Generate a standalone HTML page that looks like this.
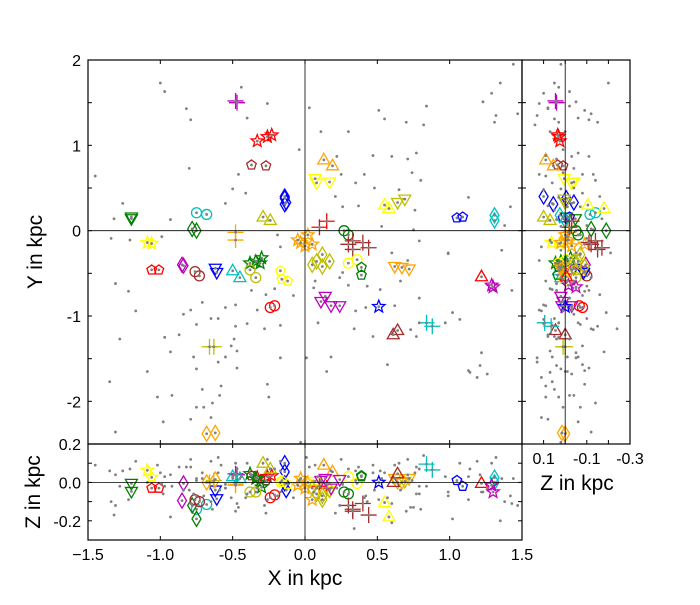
<!DOCTYPE html>
<html><head><meta charset="utf-8"><style>
body{margin:0;background:#fff;}
svg text{font-family:"Liberation Sans","DejaVu Sans",sans-serif;fill:#000;}
</style></head><body>
<svg id="chart" width="700" height="600" xmlns="http://www.w3.org/2000/svg">
<rect width="700" height="600" fill="#fff"/>
<g id="marks"></g>
<g id="axes"></g>
<text x="42" y="252" font-size="21" text-anchor="middle" transform="rotate(-90 42 252)">Y in kpc</text>
<text x="40" y="492" font-size="21" text-anchor="middle" transform="rotate(-90 40 492)">Z in kpc</text>
<text x="305" y="585" font-size="21" text-anchor="middle">X in kpc</text>
<text x="577" y="490" font-size="21" text-anchor="middle">Z in kpc</text>
</svg>
<script>
// ---- object data (kpc) ----
const objX = [-0.48,-0.47,-0.33,-0.26,-0.23,-0.37,-0.27,-0.14,-0.14,-0.14,-0.13,-1.20,-1.20,-0.75,-0.68,-0.29,-0.24,-0.78,-0.75,-0.48,-0.48,-1.09,-1.06,-0.05,0.02,0.00,0.05,-0.03,-1.06,-1.01,-0.84,-0.85,-0.76,-0.73,-0.62,-0.61,-0.50,-0.45,-0.38,-0.34,-0.30,-0.31,-0.38,-0.34,-0.17,-0.16,-0.12,-0.24,-0.21,-0.66,-0.63,-0.68,-0.62,0.13,0.19,0.07,0.08,0.17,0.55,0.58,0.64,0.69,1.05,1.09,1.31,1.31,0.10,0.15,0.27,0.30,0.30,0.33,0.40,0.44,0.33,0.05,0.08,0.12,0.12,0.17,0.30,0.36,0.39,0.39,0.62,0.67,0.72,1.22,1.29,1.30,0.14,0.11,0.18,0.24,0.51,0.61,0.64,0.84,0.88];
const objY = [1.52,1.50,1.05,1.10,1.12,0.77,0.76,0.40,0.31,0.38,0.33,0.16,0.14,0.21,0.19,0.16,0.12,0.02,0.00,-0.02,-0.11,-0.14,-0.15,-0.11,-0.05,-0.18,-0.16,-0.14,-0.46,-0.46,-0.41,-0.40,-0.48,-0.53,-0.44,-0.49,-0.47,-0.55,-0.38,-0.36,-0.32,-0.38,-0.46,-0.55,-0.47,-0.57,-0.59,-0.90,-0.88,-1.36,-1.36,-2.38,-2.37,0.83,0.76,0.61,0.56,0.57,0.30,0.26,0.33,0.37,0.15,0.16,0.18,0.12,0.04,0.11,0.00,-0.05,-0.16,-0.12,-0.14,-0.20,-0.22,-0.40,-0.36,-0.28,-0.42,-0.36,-0.38,-0.34,-0.43,-0.52,-0.42,-0.43,-0.45,-0.54,-0.64,-0.66,-0.77,-0.83,-0.88,-0.88,-0.89,-1.22,-1.17,-1.08,-1.12];
const objZ = [0.045,0.04,0.025,0.03,0.035,0.035,0.01,0.10,0.055,-0.005,-0.04,-0.005,-0.047,-0.14,-0.115,0.10,0.07,-0.12,-0.19,-0.015,-0.01,0.063,0.026,-0.015,0.0,-0.03,-0.09,0.02,-0.03,-0.03,-0.005,-0.095,-0.09,-0.10,-0.04,-0.085,0.03,0.02,0.045,0.02,-0.025,0.0,-0.05,-0.05,0.0,0.01,-0.01,-0.08,-0.065,0.0,0.01,0.0,0.015,0.09,0.055,0.005,-0.03,-0.04,-0.105,-0.18,0.0,0.005,0.01,-0.02,0.025,0.0,-0.02,-0.03,-0.05,-0.06,-0.12,-0.14,-0.11,-0.17,-0.15,-0.03,-0.06,-0.07,-0.09,-0.04,0.03,-0.005,0.03,0.035,0.02,0.0,0.02,-0.005,-0.015,-0.05,0.02,0.01,-0.03,0.015,0.0,0.0,0.045,0.095,0.065];
const objMarker = ["plus","plus","star","star","star","pent","pent","diam","diam","diam","diam","tdown","tdown","circ","circ","tup","tup","diam","diam","plus","plus","star","star","star","star","star","star","star","pent","pent","diam","diam","circ","circ","tdown","tdown","tup","tup","star","star","star","star","circ","circ","pent","pent","pent","circ","circ","plus","plus","diam","diam","tup","tup","tdown","tdown","tdown","tup","tup","tdown","tdown","pent","pent","diam","diam","plus","plus","circ","circ","plus","plus","plus","plus","plus","diam","diam","diam","diam","diam","circ","circ","pent","pent","tdown","tdown","tdown","tup","star","star","tdown","tdown","tdown","tdown","star","tup","tup","plus","plus"];
const objColor = ["m","m","r","r","r","br","br","b","b","b","b","g","g","c","c","ol","ol","g","g","o","o","y","y","o","o","o","o","o","r","r","m","m","br","br","b","b","c","c","g","g","g","g","ol","ol","y","y","y","r","r","ol","ol","o","o","o","o","y","y","y","y","y","ol","ol","b","b","c","c","r","r","g","g","br","br","br","br","br","ol","ol","ol","ol","ol","y","y","g","g","o","o","o","r","m","m","m","m","m","m","b","br","br","c","c"];
// ---- background stars (kpc) ----
const bgX = [-1.0,-0.97,-0.82,-0.79,-0.44,-0.40,-0.26,-0.04,-0.80,-1.45,-0.46,-0.50,-0.41,-1.26,-0.55,-1.32,-0.93,-1.34,-1.21,-0.99,-0.17,-0.19,1.44,1.35,1.29,1.23,1.32,1.47,1.31,0.03,0.51,0.55,0.84,0.82,0.70,0.11,0.30,0.77,0.71,0.60,0.47,0.22,0.25,0.41,0.74,0.80,0.35,0.48,0.65,0.21,1.13,1.42,0.37,0.26,0.76,1.38,0.53,0.75,0.79,0.99,-1.31,-1.22,-1.17,-1.28,-1.35,-1.31,-1.09,-1.02,-0.98,-0.97,-0.93,-0.87,-0.84,-0.79,-0.75,-0.71,-0.65,-0.60,-0.55,-0.48,-0.48,-0.49,-0.51,-0.47,-0.55,-0.60,-0.77,-0.75,-0.47,-0.58,-0.59,-0.71,-0.64,-0.75,-0.70,-0.79,-0.92,-0.65,-0.26,-0.25,-0.17,-0.17,-0.28,-0.40,-0.33,-0.37,-0.27,-0.21,-0.08,-0.03,0.60,0.71,0.66,0.52,0.43,0.35,0.42,0.62,0.79,0.34,0.47,0.73,0.77,0.79,0.97,1.02,1.07,1.22,1.21,1.13,1.14,1.26,1.19,1.43,1.36,0.99,0.18,0.15,0.01,0.57,0.09,0.06,0.07,0.24,0.26,0.30];
const bgY = [1.73,1.63,1.43,1.30,1.68,1.32,1.49,0.95,0.73,0.64,0.66,0.49,0.44,0.32,0.32,0.14,0.13,-0.09,-0.11,-0.07,-0.19,-0.05,1.95,1.73,1.61,1.51,1.35,1.37,1.27,1.44,1.41,1.31,1.46,1.24,1.27,1.16,1.16,0.91,0.84,0.87,0.88,0.87,0.66,0.66,0.68,0.59,0.56,0.50,0.48,0.40,0.39,0.28,0.29,0.28,0.24,0.06,0.05,0.01,-0.12,-0.26,-0.62,-0.71,-0.94,-1.27,-1.77,-2.36,-1.65,-1.95,-2.24,-1.25,-1.42,-1.22,-0.98,-0.93,-1.10,-0.84,-1.03,-1.03,-0.90,-0.87,-1.12,-1.27,-1.35,-1.41,-1.48,-1.54,-1.48,-1.62,-1.61,-1.82,-1.93,-1.86,-2.02,-2.07,-2.07,-2.21,-1.93,-2.19,-1.80,-1.95,-1.49,-1.11,-1.15,-1.09,-0.93,-0.70,-0.75,-0.68,-0.76,-2.48,-0.26,-0.35,-0.59,-0.69,-0.65,-0.94,-0.90,-0.88,-0.79,-1.15,-1.24,-1.16,-1.24,-1.08,-1.08,-0.96,-1.04,-1.43,-1.58,-1.64,-1.66,-1.68,-1.72,-0.70,-0.23,-0.27,-1.48,-1.65,-1.49,-1.57,-1.08,-0.67,-0.59,-0.55,-0.49,-0.64];
const bgZ = [0.05,-0.02,0.08,-0.11,0.03,-0.06,0.12,0.01,-0.04,0.09,-0.13,0.02,-0.08,0.06,-0.03,-0.17,0.04,-0.1,0.07,-0.01,0.11,-0.07,0.02,-0.2,0.1,-0.05,0.13,-0.12,0.03,0.08,-0.09,0.05,-0.02,0.14,-0.15,0.0,0.07,-0.06,0.04,-0.11,0.09,-0.03,0.12,-0.08,0.01,-0.14,0.06,-0.04,0.1,-0.16,0.03,-0.07,0.08,-0.01,0.05,-0.1,0.02,-0.13,0.07,-0.05,0.04,-0.09,0.11,-0.02,0.06,-0.12,0.0,0.09,-0.06,0.03,-0.18,0.08,-0.04,0.12,-0.07,0.02,-0.1,0.05,-0.03,0.1,-0.15,0.04,-0.08,0.07,-0.01,0.13,-0.06,0.02,-0.11,0.09,-0.04,0.05,-0.14,0.01,-0.07,0.08,-0.02,0.11,-0.09,0.03,-0.05,0.06,-0.12,0.1,-0.03,0.04,-0.16,0.07,-0.08,0.02,-0.21,0.12,-0.04,0.06,-0.1,0.01,-0.07,0.09,-0.02,-0.24,0.05,-0.13,0.08,-0.06,0.03,-0.19,0.1,-0.05,0.04,-0.09,0.07,-0.03,0.11,-0.11,0.02,-0.07,0.06,-0.01,0.13,-0.08,0.03,-0.05,0.09,-0.12];
// ---- ticks ----
const xTicks = [-1.5,-1.0,-0.5,0.0,0.5,1.0,1.5];
const xTickLabels = ["\u22121.5","-1.0","-0.5","0.0","0.5","1.0","1.5"];
const yTicks = [2,1,0,-1,-2];
const yTickLabels = ["2","1","0","-1","-2"];
const zTicks = [0.2,0.0,-0.2];
const zTickLabels = ["0.2","0.0","-0.2"];
const zSideTicks = [0.1,-0.1,-0.3];
const zSideTickLabels = ["0.1","-0.1","-0.3"];

const colors = {r:"#ff0000",br:"#a52a2a",b:"#0000ff",g:"#008000",c:"#00bfbf",m:"#bf00bf",y:"#ffff00",ol:"#bfbf00",o:"#ffa500"};
const M = {l:88,r:522,t:60,b:444}, S={l:522,r:630}, B={t:444,b:540};
const sx = x => M.l + (x + 1.5) / 3 * (M.r - M.l);
const sy = y => M.t + (2 - y) / 4.5 * (M.b - M.t);
const sz_side = z => S.l + (0.2 - z) / 0.5 * (S.r - S.l);
const sz_bot = z => B.t + (0.2 - z) / 0.5 * (B.b - B.t);
const NS = "http://www.w3.org/2000/svg";
const marks = document.getElementById('marks');
const axes = document.getElementById('axes');

function clip(id,x,y,w,h){
  let defs=document.getElementById('defs');
  if(!defs){defs=document.createElementNS(NS,'defs');defs.id='defs';document.getElementById('chart').prepend(defs);}
  const c=document.createElementNS(NS,'clipPath');c.id=id;
  const r=document.createElementNS(NS,'rect');r.setAttribute('x',x);r.setAttribute('y',y);r.setAttribute('width',w);r.setAttribute('height',h);
  c.appendChild(r);defs.appendChild(c);
}
clip('cm',M.l,M.t,M.r-M.l,M.b-M.t);clip('cs',S.l,M.t,S.r-S.l,M.b-M.t);clip('cb',M.l,B.t,M.r-M.l,B.b-B.t);

function markerPath(t,x,y){
  if(t==='circ'){return `M${x-5},${y}a5,5 0 1,0 10,0a5,5 0 1,0 -10,0`;}
  if(t==='tup'){return `M${x},${y-6.5}L${x+6},${y+4}L${x-6},${y+4}Z`;}
  if(t==='tdown'){return `M${x},${y+6.5}L${x+6},${y-4}L${x-6},${y-4}Z`;}
  if(t==='diam'){return `M${x},${y-7.5}L${x+4.5},${y}L${x},${y+7.5}L${x-4.5},${y}Z`;}
  if(t==='plus'){return `M${x-8},${y}L${x+8},${y}M${x},${y-8}L${x},${y+8}`;}
  let ro=t==='pent'?5:6.5, ri=2.8, d='';
  if(t==='pent'){for(let i=0;i<5;i++){const a=-Math.PI/2+i*2*Math.PI/5;d+=(i?'L':'M')+(x+ro*Math.cos(a)).toFixed(2)+','+(y+ro*Math.sin(a)).toFixed(2);}return d+'Z';}
  for(let i=0;i<10;i++){const a=-Math.PI/2+i*Math.PI/5, r=i%2?ri:ro;d+=(i?'L':'M')+(x+r*Math.cos(a)).toFixed(2)+','+(y+r*Math.sin(a)).toFixed(2);}
  return d+'Z';
}

const panels=[
  {name:'main',clip:'cm',px:(i,a)=>sx(a.x[i]),py:(i,a)=>sy(a.y[i])},
  {name:'side',clip:'cs',px:(i,a)=>sz_side(a.z[i]),py:(i,a)=>sy(a.y[i])},
  {name:'bottom',clip:'cb',px:(i,a)=>sx(a.x[i]),py:(i,a)=>sz_bot(a.z[i])}
];
const obj={x:objX,y:objY,z:objZ}, bg={x:bgX,y:bgY,z:bgZ};
panels.forEach(p=>{
  const g=document.createElementNS(NS,'g');g.setAttribute('clip-path',`url(#${p.clip})`);
  
  
  marks.appendChild(g);
  for(let i=0;i<objX.length;i++){
    const el=document.createElementNS(NS,'path');
    el.setAttribute('d',markerPath(objMarker[i],p.px(i,obj),p.py(i,obj)));
    el.setAttribute('fill','none');el.setAttribute('stroke',colors[objColor[i]]);el.setAttribute('stroke-width','1.3');
    
    
    g.appendChild(el);
  }
  const dots=[[bg,bgX.length],[obj,objX.length]];
  dots.forEach(([a,n])=>{for(let i=0;i<n;i++){
    const c=document.createElementNS(NS,'circle');
    c.setAttribute('cx',p.px(i,a));c.setAttribute('cy',p.py(i,a));c.setAttribute('r','1.4');c.setAttribute('fill','#808080');
    
    
    g.appendChild(c);
  }});
});

function line(x1,y1,x2,y2,w,name){
  const l=document.createElementNS(NS,'line');
  l.setAttribute('x1',x1);l.setAttribute('y1',y1);l.setAttribute('x2',x2);l.setAttribute('y2',y2);
  l.setAttribute('stroke','#000');l.setAttribute('stroke-width',w);
  
  
  axes.appendChild(l);
}
function text(x,y,s,anchor,name){
  const t=document.createElementNS(NS,'text');
  t.setAttribute('x',x);t.setAttribute('y',y);t.setAttribute('font-size','16');t.setAttribute('text-anchor',anchor);t.textContent=s;
  
  
  axes.appendChild(t);
}
line(sx(0),M.t,sx(0),M.b,0.8,'x-zero-line');
line(M.l,sy(0),M.r,sy(0),0.8,'y-zero-line');
line(sz_side(0),M.t,sz_side(0),M.b,0.8,'side-z-zero-line');
line(S.l,sy(0),S.r,sy(0),0.8,'side-y-zero-line');
line(M.l,sz_bot(0),M.r,sz_bot(0),0.8,'bottom-z-zero-line');
line(sx(0),B.t,sx(0),B.b,0.8,'bottom-x-zero-line');
for(let v=-1.5;v<=1.51;v+=0.5){
  const x=sx(v);
  line(x,M.t,x,M.t+4,1,'x-tick');line(x,M.b,x,M.b-4,1,'x-tick');
  line(x,B.t,x,B.t+4,1,'x-tick');line(x,B.b,x,B.b-4,1,'x-tick');
}
for(let v=-2.5;v<=2.01;v+=0.5){
  const y=sy(v);
  line(M.l,y,M.l+4,y,1,'y-tick');line(M.r,y,M.r-4,y,1,'y-tick');
  line(S.l,y,S.l+4,y,1,'y-tick');line(S.r,y,S.r-4,y,1,'y-tick');
}
for(let v=-0.3;v<=0.21;v+=0.1){
  const y=sz_bot(v), x=sz_side(v);
  line(M.l,y,M.l+4,y,1,'z-tick');line(M.r,y,M.r-4,y,1,'z-tick');
  line(x,M.t,x,M.t+4,1,'z-tick');line(x,M.b,x,M.b-4,1,'z-tick');
}
xTicks.forEach((v,i)=>text(sx(v),B.b+20,xTickLabels[i],'middle','x-tick-label'));
yTicks.forEach((v,i)=>text(M.l-7,sy(v)+6,yTickLabels[i],'end','y-tick-label'));
zTicks.forEach((v,i)=>text(M.l-7,sz_bot(v)+6,zTickLabels[i],'end','z-tick-label'));
zSideTicks.forEach((v,i)=>text(sz_side(v),M.b+20,zSideTickLabels[i],'middle','side-z-tick-label'));
[[M.l,M.t,M.r-M.l,M.b-M.t,'main-frame'],[S.l,M.t,S.r-S.l,M.b-M.t,'side-frame'],[M.l,B.t,M.r-M.l,B.b-B.t,'bottom-frame']].forEach(f=>{
  const r=document.createElementNS(NS,'rect');
  r.setAttribute('x',f[0]);r.setAttribute('y',f[1]);r.setAttribute('width',f[2]);r.setAttribute('height',f[3]);
  r.setAttribute('fill','none');r.setAttribute('stroke','#000');r.setAttribute('stroke-width','1.2');
  
  
  axes.appendChild(r);
});
</script>
</body></html>
